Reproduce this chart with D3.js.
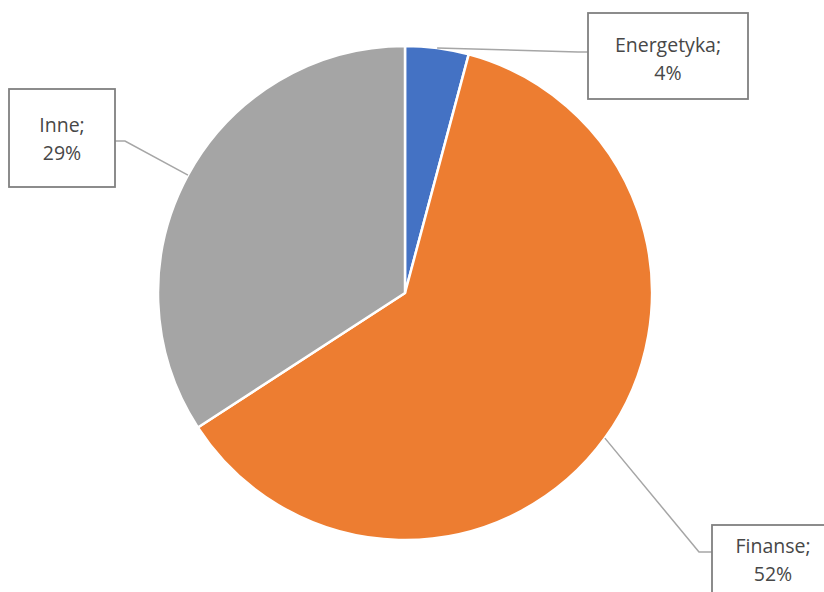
<!DOCTYPE html>
<html>
<head>
<meta charset="utf-8">
<script src="https://cdn.jsdelivr.net/npm/d3@7"></script>
<style>
  html, body { margin: 0; padding: 0; background: #ffffff; }
  svg { display: block; }
</style>
</head>
<body>
<svg id="chart" width="824" height="592"></svg>
<script>
// ---- data ----
const categories = ["Energetyka", "Finanse", "Inne"];
const values = [3.5, 52.0, 28.8];
const colors = ["#4472C4", "#ED7D31", "#A5A5A5"];

// ---- layout (positions of the label boxes) ----
const cx = 405, cy = 293, radius = 247;
const boxes = [
  { x: 588, y: 13,  w: 160, h: 86, tx: 668, ty: 52, join: [588, 52], elbow: [578, 52] },
  { x: 712, y: 525, w: 124, h: 90, tx: 773, ty: 553, join: [712, 552], elbow: [699, 552] },
  { x: 9,   y: 89,  w: 106, h: 98, tx: 62,  ty: 132, join: [115, 141], elbow: [125, 141] }
];

const svg = d3.select("#chart");
const g = svg.append("g").attr("transform", `translate(${cx},${cy})`);

const pie = d3.pie().sort(null).value(d => d)(values);
const arc = d3.arc().innerRadius(0).outerRadius(radius);
const edgeArc = d3.arc().innerRadius(radius).outerRadius(radius);

g.selectAll("path.slice")
  .data(pie)
  .join("path")
  .attr("class", "slice")
  .attr("d", arc)
  .attr("fill", (d, i) => colors[i])
  .attr("stroke", "#ffffff")
  .attr("stroke-width", 2.5)
  .attr("stroke-linejoin", "round");

const fmt = d3.format(".0f");

// leader lines
pie.forEach((d, i) => {
  const c = edgeArc.centroid(d);
  const p0 = [cx + c[0], cy + c[1]];
  const b = boxes[i];
  svg.append("polyline")
    .attr("points", [p0, b.elbow, b.join].map(p => p.join(",")).join(" "))
    .attr("fill", "none")
    .attr("stroke", "#A6A6A6")
    .attr("stroke-width", 1.5);
});

// label boxes
pie.forEach((d, i) => {
  const b = boxes[i];
  svg.append("rect")
    .attr("x", b.x).attr("y", b.y)
    .attr("width", b.w).attr("height", b.h)
    .attr("fill", "#ffffff")
    .attr("stroke", "#808080")
    .attr("stroke-width", 1.8);
  const t = svg.append("text")
    .attr("x", b.tx).attr("y", b.ty)
    .attr("text-anchor", "middle")
    .attr("font-family", "'Open Sans', 'Noto Sans', sans-serif")
    .attr("font-size", 19.5)
    .attr("fill", "#474747");
  t.append("tspan").attr("x", b.tx).attr("dy", 0).text(categories[i] + ";");
  t.append("tspan").attr("x", b.tx).attr("dy", 28).text(fmt(values[i]) + "%");
});
</script>
</body>
</html>
